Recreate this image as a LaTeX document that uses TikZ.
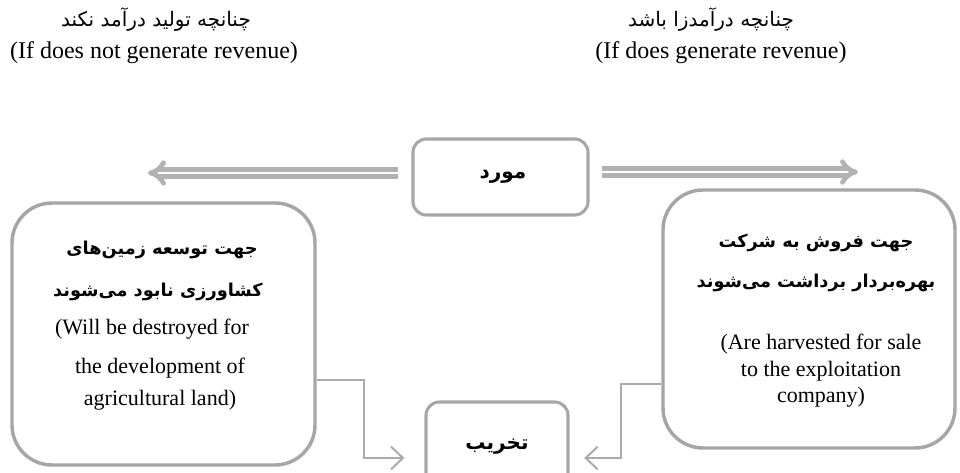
\documentclass[tikz,border=0pt]{standalone}
\usepackage{fontspec}
\setmainfont{Liberation Serif}
\newfontfamily\fa[Script=Arabic]{DejaVu Sans}
\TeXXeTstate=1
\usetikzlibrary{arrows.meta}
\definecolor{bordergray}{HTML}{A6A6A6}
\definecolor{arrowgray}{HTML}{B2B2B2}
\definecolor{conngray}{HTML}{ABABAB}
\begin{document}
\begin{tikzpicture}[x=0.75pt,y=-0.75pt,
  bigbox/.style={draw=bordergray, line width=2.6pt, rounded corners=30pt, inner sep=0pt},
  smallbox/.style={draw=bordergray, line width=2.3pt, rounded corners=10pt, inner sep=0pt},
  fatxt/.style={font=\fa\bfseries\fontsize{13.3}{15}\selectfont, inner sep=0pt},
  fabig/.style={font=\fa\bfseries\fontsize{15}{17}\selectfont, inner sep=0pt},
  fatop/.style={font=\fa\fontsize{15}{17}\selectfont, inner sep=0pt},
  entop/.style={font=\fontsize{18}{21}\selectfont, inner sep=0pt},
  entxt/.style={font=\fontsize{16.5}{19}\selectfont, inner sep=0pt},
  dbl/.style={draw=arrowgray, line width=3.6pt, double=white, double distance=2.2pt, -{Implies}},
  conn/.style={draw=conngray, line width=1.5pt, -{Straight Barb[length=9pt,width=17pt,line width=1.5pt]}}
]
\useasboundingbox (0,0) rectangle (960,473);

% top labels
\node[fatop] (tl1) at (156,20) {\beginR چنانچه تولید درآمد نکند\endR};
\node[entop] (tl2) at (154,53) {(If does not generate revenue)};
\node[fatop] (tr1) at (711,20) {\beginR چنانچه درآمدزا باشد\endR};
\node[entop] (tr2) at (721,53) {(If does generate revenue)};

% boxes
\node[smallbox, minimum width=131.25pt, minimum height=57pt] (mbox) at (500.5,177) {};
\node[fabig] (mtxt) at (503,177) {\beginR مورد\endR};

\node[bigbox, minimum width=227.25pt, minimum height=196.5pt] (lbox) at (163.5,334) {};
\node[fatxt] (l1) at (162,250) {\beginR جهت توسعه زمین‌های\endR};
\node[fatxt] (l2) at (158,292) {\beginR کشاورزی نابود می‌شوند\endR};
\node[entxt] (l3) at (152,329) {(Will be destroyed for};
\node[entxt] (l4) at (160,368) {the development of};
\node[entxt] (l5) at (160,400) {agricultural land)};

\node[bigbox, minimum width=219pt, minimum height=193.5pt] (rbox) at (809,319) {};
\node[fatxt] (r1) at (816,243) {\beginR جهت فروش به شرکت\endR};
\node[fatxt] (r2) at (816,283) {\beginR بهره‌بردار برداشت می‌شوند\endR};
\node[entxt] (r3) at (821,344) {(Are harvested for sale};
\node[entxt] (r4) at (821,371) {to the exploitation};
\node[entxt] (r5) at (821,397) {company)};

\node[smallbox, minimum width=106.5pt, minimum height=72pt] (tbox) at (497,450) {};
\node[fabig] (ttxt) at (497,447) {\beginR تخریب\endR};

% double arrows
\coordinate (lt) at (148,173);
\coordinate (rt) at (858,172);
\draw[dbl] ([xshift=-10pt]mbox.west |- lt) -- (lt);
\draw[dbl] ([xshift=9pt]mbox.east |- rt) -- (rt);

% connectors
\coordinate (lc) at (364,380);
\coordinate (rc) at (621,384);
\draw[conn, shorten >=15pt] (lbox.east |- lc) -- (lc) |- (tbox.west |- 0,458);
\draw[conn, shorten >=11pt] (rbox.west |- rc) -- (rc) |- (tbox.east |- 0,458);
\end{tikzpicture}
\end{document}
